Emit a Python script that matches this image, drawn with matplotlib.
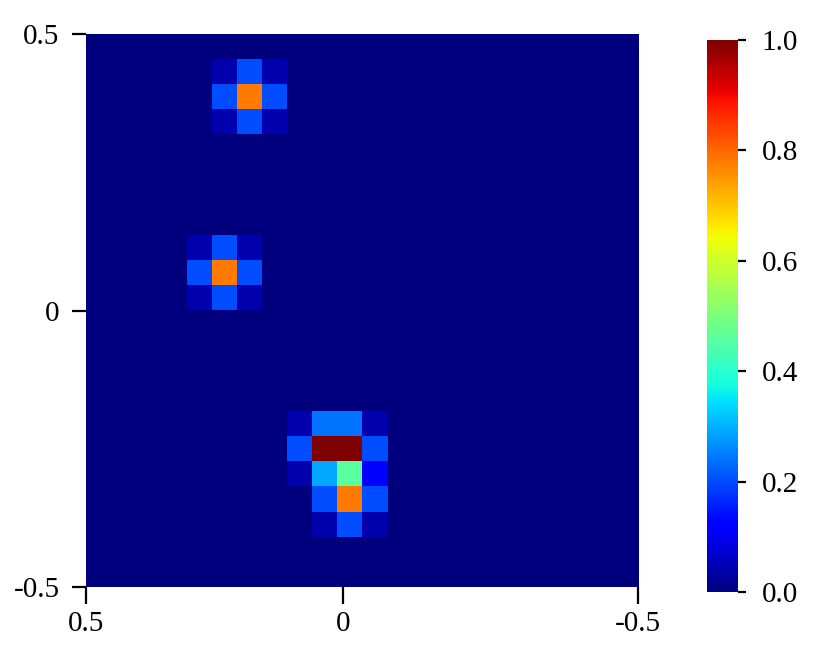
"""
Recreates a 22x22 intensity map with jet colormap and a side colorbar.
"""

import numpy as np
import matplotlib
matplotlib.use("Agg")
import matplotlib.pyplot as plt

grid_size = 22

# each source: (top row, left column, values)
spot_top = [[0.04, 0.20, 0.04],
            [0.20, 0.78, 0.20],
            [0.04, 0.20, 0.04]]
spot_mid = [[0.04, 0.20, 0.04],
            [0.20, 0.78, 0.20],
            [0.04, 0.20, 0.04]]
spot_low = [[0.04, 0.24, 0.24, 0.04],
            [0.20, 1.00, 1.00, 0.20],
            [0.04, 0.29, 0.46, 0.12],
            [0.00, 0.20, 0.78, 0.20],
            [0.00, 0.04, 0.20, 0.04]]
spot_origins = [(1, 5), (8, 4), (15, 8)]

x_ticks = [0.5, 0.034, -0.5]
x_labels = ["0.5", "0", "-0.5"]
y_ticks = [-0.5, 0, 0.5]
y_labels = ["-0.5", "0", "0.5"]
cbar_ticks = [0.0, 0.2, 0.4, 0.6, 0.8, 1.0]

image = np.zeros((grid_size, grid_size))
for (r0, c0), spot in zip(spot_origins, [spot_top, spot_mid, spot_low]):
    spot = np.array(spot)
    image[r0:r0 + spot.shape[0], c0:c0 + spot.shape[1]] = spot

plt.rcParams["font.family"] = ["Liberation Serif", "DejaVu Serif"]
plt.rcParams["font.size"] = 21

fig = plt.figure(figsize=(8.31, 6.58), dpi=100)
ax = fig.add_axes([0.1035, 0.1079, 0.6643, 0.8404])
im = ax.imshow(image, cmap="jet", vmin=0, vmax=1, origin="upper",
               extent=[0.5, -0.5, -0.5, 0.5], aspect="auto",
               interpolation="nearest")
ax.set_xticks(x_ticks)
ax.set_xticklabels(x_labels)
ax.set_yticks(y_ticks)
ax.set_yticklabels(y_labels)
for s in ax.spines.values():
    s.set_visible(False)
ax.tick_params(axis="x", length=12, width=1.6, direction="out", pad=5)
ax.tick_params(axis="y", length=10, width=1.6, direction="out", pad=9)

cax = fig.add_axes([0.8508, 0.1003, 0.0373, 0.8389])
cb = fig.colorbar(im, cax=cax, ticks=cbar_ticks)
cb.ax.set_yticklabels([f"{t:.1f}" for t in cbar_ticks])
cb.outline.set_visible(False)
cb.ax.tick_params(length=6, width=1.6, pad=11)

fig.savefig("out.png", dpi=100)
